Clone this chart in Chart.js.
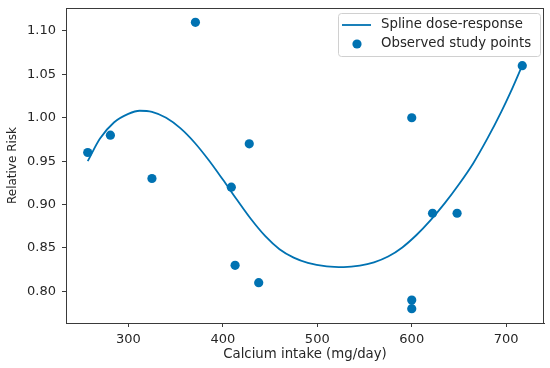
<!DOCTYPE html>
<html>
<head>
<meta charset="utf-8">
<script src="https://cdn.jsdelivr.net/npm/chart.js@4"></script>
<style>
  body { margin: 0; background: #fff; }
  canvas { display: block; }
</style>
</head>
<body>
<canvas id="chart" width="550" height="368"></canvas>
<script>
// observed study points
const studyIntake = [257, 281, 325, 371, 409, 413, 428, 438, 600, 600, 600, 622, 648, 717];
const studyRR = [0.96, 0.98, 0.93, 1.11, 0.92, 0.83, 0.97, 0.81, 1.00, 0.79, 0.78, 0.89, 0.89, 1.06];

// spline curve
const splineIntake = [257, 270, 285, 300, 312, 325, 340, 355, 370, 385, 400, 415, 430, 445, 460, 475, 490, 510, 528, 545, 560, 575, 590, 605, 620, 635, 650, 665, 680, 695, 705, 716];
const splineRR = [0.9500, 0.9760, 0.9948, 1.0045, 1.0081, 1.0068, 1.0000, 0.9880, 0.9715, 0.9513, 0.9288, 0.9055, 0.8830, 0.8635, 0.8485, 0.8388, 0.8328, 0.8288, 0.8279, 0.8296, 0.8334, 0.8401, 0.8506, 0.8649, 0.8821, 0.9016, 0.9234, 0.9474, 0.9759, 1.0074, 1.0304, 1.0579];

const xTicks = [300, 400, 500, 600, 700];
const yTicks = [0.80, 0.85, 0.90, 0.95, 1.00, 1.05, 1.10];

const blue = '#0072B2';
const ink = '#262626';
const axisColor = '#3a3a3a';
const tickFont = { family: 'DejaVu Sans', size: 13 };
const labelFont = { family: 'DejaVu Sans', size: 13.3 };

// matplotlib style frame all round the axes
const framePlugin = {
  id: 'frame',
  afterDraw(chart) {
    const { ctx, chartArea: a } = chart;
    ctx.save();
    ctx.strokeStyle = axisColor;
    ctx.lineWidth = 1;
    ctx.strokeRect(a.left + 0.5, a.top + 0.5, a.right - a.left - 1, a.bottom - a.top);
    ctx.restore();
  }
};

// legend box inside the upper right corner
const legendPlugin = {
  id: 'innerLegend',
  afterDraw(chart) {
    const { ctx } = chart;
    const ds = chart.data.datasets;
    const x = 338, y = 13, w = 202, h = 43;
    ctx.save();
    ctx.beginPath();
    ctx.roundRect(x + 0.5, y + 0.5, w, h, 3);
    ctx.fillStyle = 'rgba(255,255,255,0.8)';
    ctx.fill();
    ctx.strokeStyle = '#d0d0d0';
    ctx.lineWidth = 1;
    ctx.stroke();

    ctx.font = '13.3px "DejaVu Sans"';
    ctx.textBaseline = 'middle';

    // line entry
    ctx.strokeStyle = blue;
    ctx.lineWidth = 1.8;
    ctx.beginPath();
    ctx.moveTo(342, 25);
    ctx.lineTo(371, 25);
    ctx.stroke();
    ctx.fillStyle = ink;
    ctx.fillText(ds[1].label, 381, 25);

    // scatter entry
    ctx.fillStyle = blue;
    ctx.beginPath();
    ctx.arc(357, 44, 4.6, 0, Math.PI * 2);
    ctx.fill();
    ctx.fillStyle = ink;
    ctx.fillText(ds[0].label, 381, 44);
    ctx.restore();
  }
};

new Chart(document.getElementById('chart'), {
  type: 'scatter',
  data: {
    datasets: [
      {
        label: 'Observed study points',
        data: studyIntake.map((v, i) => ({ x: v, y: studyRR[i] })),
        backgroundColor: blue,
        borderWidth: 0,
        pointRadius: 4.6,
        order: 0
      },
      {
        type: 'line',
        label: 'Spline dose-response',
        data: splineIntake.map((v, i) => ({ x: v, y: splineRR[i] })),
        borderColor: blue,
        borderWidth: 1.8,
        pointRadius: 0,
        fill: false,
        cubicInterpolationMode: 'monotone',
        order: 1
      }
    ]
  },
  options: {
    responsive: false,
    animation: false,
    devicePixelRatio: 1,
    layout: { padding: { top: 8, right: 6, left: 0, bottom: 0 } },
    plugins: {
      legend: { display: false },
      tooltip: { enabled: false }
    },
    scales: {
      x: {
        type: 'linear',
        min: 234,
        max: 740,
        afterBuildTicks: (scale) => { scale.ticks = xTicks.map(v => ({ value: v })); },
        afterFit: (scale) => {
          scale.height = 45;
          scale.paddingLeft = 0;
          scale.paddingRight = 0;
        },
        grid: { drawOnChartArea: false, drawTicks: true, tickLength: 4, color: axisColor },
        border: { display: true, color: axisColor },
        ticks: { font: tickFont, color: ink, padding: 5, maxRotation: 0 },
        title: { display: true, text: 'Calcium intake (mg/day)', font: labelFont, color: ink, padding: { top: 0, bottom: 5 } }
      },
      y: {
        min: 0.7635,
        max: 1.1265,
        afterBuildTicks: (scale) => { scale.ticks = yTicks.map(v => ({ value: v })); },
        afterFit: (scale) => {
          scale.width = 66;
          scale.paddingTop = 0;
          scale.paddingBottom = 0;
        },
        grid: { drawOnChartArea: false, drawTicks: true, tickLength: 4, color: axisColor },
        border: { display: true, color: axisColor },
        ticks: { font: tickFont, color: ink, padding: 6, callback: (v) => v.toFixed(2) },
        title: { display: true, text: 'Relative Risk', font: { family: 'DejaVu Sans', size: 12 }, color: ink, padding: { top: 6, bottom: 0 } }
      }
    }
  },
  plugins: [framePlugin, legendPlugin]
});
</script>
</body>
</html>
